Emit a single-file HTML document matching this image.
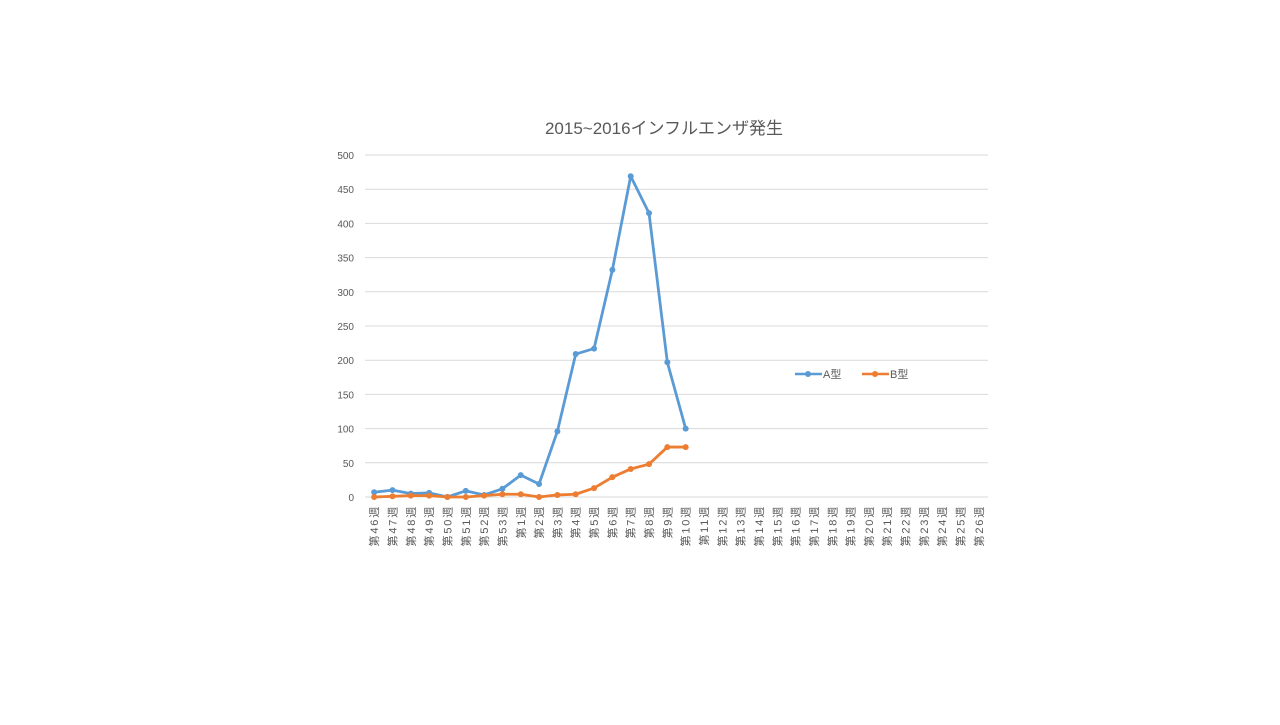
<!DOCTYPE html>
<html><head><meta charset="utf-8"><style>
body{margin:0;background:#fff;width:1280px;height:720px;overflow:hidden;font-family:"Liberation Sans","Noto Sans CJK JP",sans-serif}
</style></head><body>
<svg width="1280" height="720" id="c" font-family="Liberation Sans, Noto Sans CJK JP, sans-serif">
<text x="664" y="134" text-anchor="middle" font-size="17" fill="#595959">2015~2016インフルエンザ発生</text>
<g id="grid"></g><g id="xl"></g><g id="series"></g>
<g>
<g><line x1="795" y1="374" x2="822" y2="374" stroke="#5B9BD5" stroke-width="2.5"/><circle cx="808" cy="374" r="3" fill="#5B9BD5"/><text x="823" y="378" font-size="11" fill="#595959">A型</text></g>
<g><line x1="862" y1="374" x2="889" y2="374" stroke="#ED7D31" stroke-width="2.5"/><circle cx="875" cy="374" r="3" fill="#ED7D31"/><text x="890" y="378" font-size="11" fill="#595959">B型</text></g>
</g>
</svg>
<script>
const categories=["第46週","第47週","第48週","第49週","第50週","第51週","第52週","第53週","第1週","第2週","第3週","第4週","第5週","第6週","第7週","第8週","第9週","第10週","第11週","第12週","第13週","第14週","第15週","第16週","第17週","第18週","第19週","第20週","第21週","第22週","第23週","第24週","第25週","第26週"];
const seriesA=[7,10,5,6,0,9,3,12,32,19,96,209,217,332,469,415,197,100];
const seriesB=[0,1,2,2,0,0,2,4,4,0,3,4,13,29,41,48,73,73];
const yTicks=[0,50,100,150,200,250,300,350,400,450,500];
const NS="http://www.w3.org/2000/svg";
const x0=365,x1=988,y0=497,y1=155,yMax=500;
const step=(x1-x0)/categories.length;
const xs=i=>x0+step*(i+0.5);
const ys=v=>y0-(v/yMax)*(y0-y1);
function mk(t,a,p){const e=document.createElementNS(NS,t);for(const k in a)e.setAttribute(k,a[k]);p.appendChild(e);return e;}
const grid=document.getElementById('grid');
yTicks.forEach(t=>{
 const l=mk('line',{x1:x0,x2:x1,y1:ys(t),y2:ys(t),stroke:'#d9d9d9','stroke-width':1},grid);
 
 
 const tx=mk('text',{x:354,y:ys(t)+4,'text-anchor':'end','font-size':10,fill:'#595959'},grid);
 tx.textContent=t;
 
 
});
const xl=document.getElementById('xl');
categories.forEach((c,i)=>{
 const tx=mk('text',{transform:`translate(${xs(i)+4},${y0+8}) rotate(-90)`,'text-anchor':'end','font-size':11,'letter-spacing':'1.8',fill:'#595959'},xl);
 tx.textContent=c;
 
 
});
const sg=document.getElementById('series');
[[seriesA,'#5B9BD5','a'],[seriesB,'#ED7D31','b']].forEach(([d,col,n])=>{
 const g=mk('g',{},sg);
 
 
 const p=mk('polyline',{points:d.map((v,i)=>xs(i)+','+ys(v)).join(' '),fill:'none',stroke:col,'stroke-width':2.8,'stroke-linejoin':'round'},g);
 
 
 d.forEach((v,i)=>{
  const c=mk('circle',{cx:xs(i),cy:ys(v),r:3,fill:col},g);
  
  
 });
});
</script>
</body></html>
